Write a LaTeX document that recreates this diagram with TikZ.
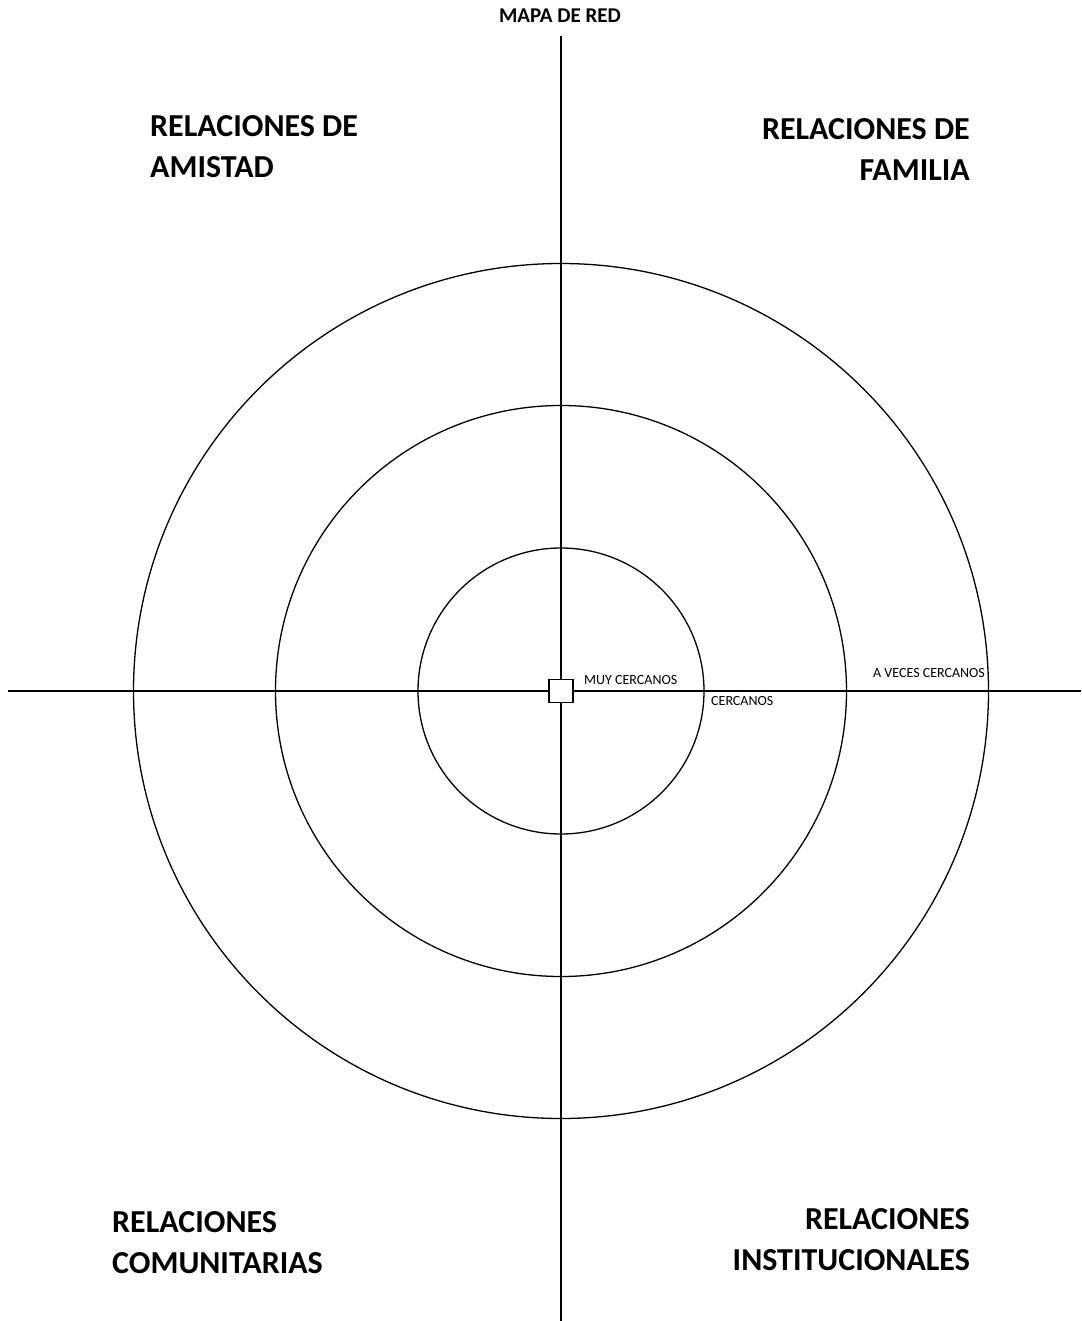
\documentclass[tikz,border=0pt]{standalone}
\usepackage{fontspec}
\setmainfont{Carlito}
\begin{document}
\begin{tikzpicture}[x=1pt,y=-1pt,
  ring/.style={draw=black,line width=1.3pt},
  axis/.style={draw=black,line width=1.3pt},
  bigtitle/.style={font=\fontsize{32}{41.5}\selectfont\bfseries,inner sep=0pt},
  small/.style={font=\fontsize{14}{16}\selectfont,inner sep=0pt},
  toptitle/.style={font=\fontsize{21}{24}\selectfont\bfseries,inner sep=0pt}]
\useasboundingbox[fill=white] (0,0) rectangle (1081,1321);
\coordinate (c) at (561,691);
\coordinate (top) at (561,36);
\coordinate (bot) at (561,1321);
\coordinate (left) at (8,691);
\coordinate (right) at (1081,691);
\draw[axis] (top) -- (bot);
\draw[axis] (left) -- (right);
\draw[ring] (c) circle (143);
\draw[ring] (c) circle (285.5);
\draw[ring] (c) circle (427.5);
\node[draw=black,line width=1.3pt,fill=white,minimum width=24pt,minimum height=23pt,inner sep=0pt] (me) at (c) {};
\node[toptitle] (title) at (560,16) {MAPA DE RED};
\node[bigtitle,align=left,anchor=north west] (amistad) at (150,115) {RELACIONES DE\\AMISTAD};
\node[bigtitle,align=right,anchor=north east] (familia) at (970,118) {RELACIONES DE\\FAMILIA};
\node[bigtitle,align=left,anchor=north west] (comunit) at (112,1211) {RELACIONES\\COMUNITARIAS};
\node[bigtitle,align=right,anchor=north east] (instit) at (970,1208) {RELACIONES\\INSTITUCIONALES};
\node[small,anchor=west] (muy) at (584,680) {MUY CERCANOS};
\node[small,anchor=west] (cerc) at (711,700.5) {CERCANOS};
\node[small,anchor=west] (aveces) at (873,673) {A VECES CERCANOS};
\end{tikzpicture}
\end{document}
